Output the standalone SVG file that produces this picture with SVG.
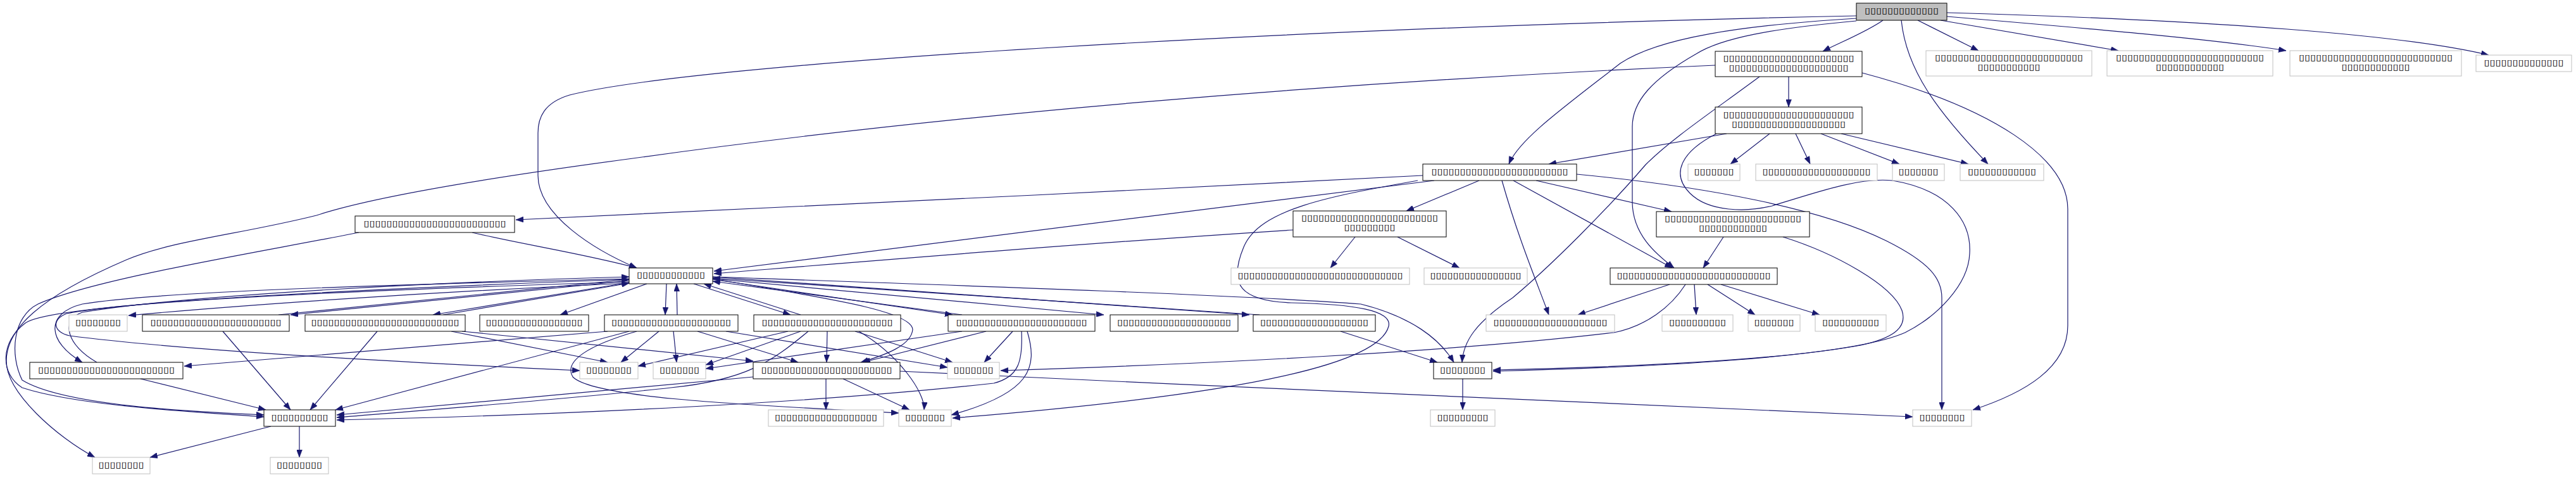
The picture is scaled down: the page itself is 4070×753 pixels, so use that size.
<svg xmlns="http://www.w3.org/2000/svg" width="4070" height="753" viewBox="0 0 4070 753">
<style>
rect{fill:#fff;stroke-width:1}
.d rect{stroke:#000}
.u rect{stroke:#bfbfbf}
.r rect{fill:#bfbfbf;stroke:#000}
text{font-family:"DejaVu Sans",sans-serif;font-size:13px;text-anchor:middle;fill:#000;lengthAdjust:spacingAndGlyphs}
#edges path{fill:none;stroke:#191970;stroke-width:1.2;marker-end:url(#ah)}
</style>
<defs>
<marker id="ah" viewBox="0 0 12 9" refX="12" refY="4.5" markerWidth="12" markerHeight="9" orient="auto" markerUnits="userSpaceOnUse"><path d="M0,0L12,4.5L0,9z" fill="#191970" stroke="#191970" stroke-width="0.5"/></marker>
</defs>
<rect x="0" y="0" width="4070" height="753" style="fill:#fff;stroke:none"/>
<g id="edges">
<path d="M2975,32 C2950,50 2905,68 2880,81"/>
<path d="M3004,32 C3012,110 3060,175 3141,259"/>
<path d="M3030,32 L3126,80"/>
<path d="M3066,32 L3347,80"/>
<path d="M3076,26 C3300,45 3500,62 3612,80"/>
<path d="M3076,20 C3500,32 3800,55 3932,87"/>
<path d="M2933,25 C2000,45 1100,100 900,150 C860,162 850,185 850,210 L850,277 C850,340 940,395 1006,423"/>
<path d="M2933,29 C2750,40 2620,60 2560,100 C2470,170 2400,220 2384,259"/>
<path d="M2933,33 C2800,45 2720,60 2680,85 C2610,125 2579,160 2579,200 L2579,320 C2580,370 2615,400 2645,423"/>
<path d="M2826,121 L2826,169"/>
<path d="M2780,121 C2700,180 2640,220 2600,260 C2540,330 2450,420 2390,470 C2330,510 2312,540 2310,572"/>
<path d="M2710,103 C2100,130 1500,180 1000,250 C700,290 560,320 500,340 C380,370 270,380 200,410 C60,470 10,520 10,570 C10,620 90,690 150,722"/>
<path d="M2942,115 C3150,170 3267,250 3267,330 L3267,514 C3267,580 3200,620 3117,647"/>
<path d="M2728,211 L2447,259"/>
<path d="M2796,211 L2734,259"/>
<path d="M2837,211 L2860,259"/>
<path d="M2877,211 L3001,259"/>
<path d="M2909,211 L3110,259"/>
<path d="M2712,211 C2655,240 2640,275 2670,305 C2700,335 2760,335 2800,325 C2880,300 2940,280 2990,285 C3080,300 3115,350 3112,400 C3110,450 3060,500 3010,525 C2920,565 2600,580 2359,586"/>
<path d="M2248,277 C1800,300 1200,330 815,347"/>
<path d="M2266,285 C1900,330 1400,395 1128,428"/>
<path d="M2337,285 L2222,333"/>
<path d="M2373,285 C2400,380 2430,450 2447,497"/>
<path d="M2391,285 L2642,423"/>
<path d="M2427,285 L2641,334"/>
<path d="M2491,275 C2700,295 2880,330 2980,380 C3050,415 3068,440 3068,470 L3068,647"/>
<path d="M2240,285 C2100,310 1990,330 1965,390 C1940,450 1960,475 2040,478 C2140,480 2200,490 2194,515 C2180,570 2000,620 1505,660"/>
<path d="M2043,363 C1700,385 1400,410 1128,432"/>
<path d="M2141,374 L2102,423"/>
<path d="M2208,374 L2306,423"/>
<path d="M2723,374 L2691,423"/>
<path d="M2817,374 C2900,400 2990,450 3005,490 C3015,520 2985,535 2940,545 C2800,570 2550,580 2359,584"/>
<path d="M2638,449 L2493,497"/>
<path d="M2663,449 C2640,485 2600,515 2550,525 C2300,555 1900,575 1581,585"/>
<path d="M2677,449 L2680,497"/>
<path d="M2698,449 L2773,497"/>
<path d="M2719,449 L2875,497"/>
<path d="M2311,598 L2311,647"/>
<path d="M1126,437 C1500,450 1950,465 2150,480 C2230,500 2275,535 2297,572"/>
<path d="M2118,523 L2271,572"/>
<path d="M746,367 C820,385 920,400 1006,423"/>
<path d="M567,367 C400,400 150,440 60,480 C20,500 15,560 35,600 C100,640 300,650 417,655"/>
<path d="M994,440 C600,450 250,460 130,480 C70,495 75,540 130,572"/>
<path d="M153,572 C105,545 95,505 130,493 C300,465 700,445 994,437"/>
<path d="M994,445 C500,460 80,480 40,510 C0,540 0,590 35,612 C120,640 300,650 417,658"/>
<path d="M994,447 C700,460 400,480 203,498"/>
<path d="M994,443 L459,497"/>
<path d="M440,497 L994,441"/>
<path d="M994,446 L684,497"/>
<path d="M700,497 L994,447"/>
<path d="M1022,448 L885,497"/>
<path d="M1053,448 L1051,497"/>
<path d="M1070,497 L1069,448"/>
<path d="M1096,448 L1249,497"/>
<path d="M1265,497 L1112,448"/>
<path d="M1126,441 L1505,497"/>
<path d="M1520,497 L1126,444"/>
<path d="M1126,440 L1744,497"/>
<path d="M1126,437 L1974,497"/>
<path d="M1990,497 L1126,439"/>
<path d="M1126,440 C1300,470 1440,490 1442,520 C1440,545 1400,560 1360,572"/>
<path d="M352,523 L459,647"/>
<path d="M596,523 L490,647"/>
<path d="M994,523 L530,647"/>
<path d="M222,598 L420,647"/>
<path d="M1190,595 L532,655"/>
<path d="M1277,523 C1220,570 1180,600 1060,612 C900,630 700,645 532,659"/>
<path d="M1614,523 C1616,570 1610,595 1570,605 C1300,635 900,655 532,663"/>
<path d="M428,673 L237,722"/>
<path d="M473,673 L473,722"/>
<path d="M960,523 L291,578"/>
<path d="M1041,523 L981,572"/>
<path d="M1064,523 L1069,572"/>
<path d="M1102,523 L1261,572"/>
<path d="M1147,523 L1497,580"/>
<path d="M1006,523 C930,545 890,570 905,595 C940,630 1200,640 1420,652"/>
<path d="M1245,523 L1008,578"/>
<path d="M1265,523 L1115,576"/>
<path d="M1307,523 L1306,572"/>
<path d="M1351,523 L1505,572"/>
<path d="M1357,523 C1420,560 1462,620 1460,647"/>
<path d="M1520,523 L1115,582"/>
<path d="M1558,523 L1363,572"/>
<path d="M1600,523 L1555,572"/>
<path d="M1623,523 C1640,580 1630,620 1503,655"/>
<path d="M1305,598 L1305,647"/>
<path d="M1332,598 L1437,647"/>
<path d="M1422,586 C2000,615 2700,640 3022,658"/>
<path d="M713,523 L960,572"/>
<path d="M730,523 L1190,570"/>
<path d="M994,441 C600,455 200,475 105,495 C80,505 85,525 110,530 C300,555 700,575 916,585"/>
</g>
<g id="n_root" class="r"><rect x="2933" y="5" width="143" height="27"/><text x="3004.5" y="21" textLength="117" lengthAdjust="spacingAndGlyphs">▯▯▯▯▯▯▯▯▯▯▯▯▯</text></g>
<g id="n_a" class="d"><rect x="2710" y="81" width="232" height="40"/><text x="2826" y="95.5" textLength="207" lengthAdjust="spacingAndGlyphs">▯▯▯▯▯▯▯▯▯▯▯▯▯▯▯▯▯▯▯▯▯▯▯</text><text x="2826" y="110.5" textLength="189" lengthAdjust="spacingAndGlyphs">▯▯▯▯▯▯▯▯▯▯▯▯▯▯▯▯▯▯▯▯▯</text></g>
<g id="n_g1" class="u"><rect x="3043" y="80" width="262" height="40"/><text x="3174" y="94.5" textLength="234" lengthAdjust="spacingAndGlyphs">▯▯▯▯▯▯▯▯▯▯▯▯▯▯▯▯▯▯▯▯▯▯▯▯▯▯</text><text x="3174" y="109.5" textLength="99" lengthAdjust="spacingAndGlyphs">▯▯▯▯▯▯▯▯▯▯▯</text></g>
<g id="n_g2" class="u"><rect x="3329" y="80" width="262" height="40"/><text x="3460" y="94.5" textLength="234" lengthAdjust="spacingAndGlyphs">▯▯▯▯▯▯▯▯▯▯▯▯▯▯▯▯▯▯▯▯▯▯▯▯▯▯</text><text x="3460" y="109.5" textLength="108" lengthAdjust="spacingAndGlyphs">▯▯▯▯▯▯▯▯▯▯▯▯</text></g>
<g id="n_g3" class="u"><rect x="3618" y="80" width="271" height="40"/><text x="3753.5" y="94.5" textLength="243" lengthAdjust="spacingAndGlyphs">▯▯▯▯▯▯▯▯▯▯▯▯▯▯▯▯▯▯▯▯▯▯▯▯▯▯▯</text><text x="3753.5" y="109.5" textLength="108" lengthAdjust="spacingAndGlyphs">▯▯▯▯▯▯▯▯▯▯▯▯</text></g>
<g id="n_g4" class="u"><rect x="3912" y="87" width="151" height="26"/><text x="3987.5" y="102.5" textLength="126" lengthAdjust="spacingAndGlyphs">▯▯▯▯▯▯▯▯▯▯▯▯▯▯</text></g>
<g id="n_b" class="d"><rect x="2710" y="169" width="232" height="42"/><text x="2826" y="184.5" textLength="207" lengthAdjust="spacingAndGlyphs">▯▯▯▯▯▯▯▯▯▯▯▯▯▯▯▯▯▯▯▯▯▯▯</text><text x="2826" y="199.5" textLength="180" lengthAdjust="spacingAndGlyphs">▯▯▯▯▯▯▯▯▯▯▯▯▯▯▯▯▯▯▯▯</text></g>
<g id="n_c" class="d"><rect x="2248" y="259" width="243" height="26"/><text x="2369.5" y="274.5" textLength="216" lengthAdjust="spacingAndGlyphs">▯▯▯▯▯▯▯▯▯▯▯▯▯▯▯▯▯▯▯▯▯▯▯▯</text></g>
<g id="n_g5" class="u"><rect x="2667" y="259" width="82" height="26"/><text x="2708" y="274.5" textLength="63" lengthAdjust="spacingAndGlyphs">▯▯▯▯▯▯▯</text></g>
<g id="n_g6" class="u"><rect x="2774" y="259" width="192" height="26"/><text x="2870" y="274.5" textLength="171" lengthAdjust="spacingAndGlyphs">▯▯▯▯▯▯▯▯▯▯▯▯▯▯▯▯▯▯▯</text></g>
<g id="n_g7" class="u"><rect x="2990" y="259" width="82" height="26"/><text x="3031" y="274.5" textLength="63" lengthAdjust="spacingAndGlyphs">▯▯▯▯▯▯▯</text></g>
<g id="n_g8" class="u"><rect x="3097" y="259" width="132" height="26"/><text x="3163" y="274.5" textLength="108" lengthAdjust="spacingAndGlyphs">▯▯▯▯▯▯▯▯▯▯▯▯</text></g>
<g id="n_d" class="d"><rect x="561" y="341" width="252" height="26"/><text x="687" y="356.5" textLength="225" lengthAdjust="spacingAndGlyphs">▯▯▯▯▯▯▯▯▯▯▯▯▯▯▯▯▯▯▯▯▯▯▯▯▯</text></g>
<g id="n_e" class="d"><rect x="2043" y="333" width="242" height="41"/><text x="2164" y="348" textLength="216" lengthAdjust="spacingAndGlyphs">▯▯▯▯▯▯▯▯▯▯▯▯▯▯▯▯▯▯▯▯▯▯▯▯</text><text x="2164" y="363" textLength="81" lengthAdjust="spacingAndGlyphs">▯▯▯▯▯▯▯▯▯</text></g>
<g id="n_f" class="d"><rect x="2617" y="334" width="242" height="40"/><text x="2738" y="348.5" textLength="216" lengthAdjust="spacingAndGlyphs">▯▯▯▯▯▯▯▯▯▯▯▯▯▯▯▯▯▯▯▯▯▯▯▯</text><text x="2738" y="363.5" textLength="108" lengthAdjust="spacingAndGlyphs">▯▯▯▯▯▯▯▯▯▯▯▯</text></g>
<g id="n_h" class="d"><rect x="994" y="423" width="132" height="25"/><text x="1060" y="438" textLength="108" lengthAdjust="spacingAndGlyphs">▯▯▯▯▯▯▯▯▯▯▯▯</text></g>
<g id="n_g9" class="u"><rect x="1945" y="423" width="282" height="26"/><text x="2086" y="438.5" textLength="261" lengthAdjust="spacingAndGlyphs">▯▯▯▯▯▯▯▯▯▯▯▯▯▯▯▯▯▯▯▯▯▯▯▯▯▯▯▯▯</text></g>
<g id="n_g10" class="u"><rect x="2250" y="423" width="163" height="26"/><text x="2331.5" y="438.5" textLength="144" lengthAdjust="spacingAndGlyphs">▯▯▯▯▯▯▯▯▯▯▯▯▯▯▯▯</text></g>
<g id="n_g" class="d"><rect x="2544" y="423" width="264" height="26"/><text x="2676" y="438.5" textLength="243" lengthAdjust="spacingAndGlyphs">▯▯▯▯▯▯▯▯▯▯▯▯▯▯▯▯▯▯▯▯▯▯▯▯▯▯▯</text></g>
<g id="n_g11" class="u"><rect x="109" y="497" width="92" height="26"/><text x="155" y="512.5" textLength="72" lengthAdjust="spacingAndGlyphs">▯▯▯▯▯▯▯▯</text></g>
<g id="n_k1" class="d"><rect x="225" y="497" width="232" height="26"/><text x="341" y="512.5" textLength="207" lengthAdjust="spacingAndGlyphs">▯▯▯▯▯▯▯▯▯▯▯▯▯▯▯▯▯▯▯▯▯▯▯</text></g>
<g id="n_k2" class="d"><rect x="482" y="497" width="253" height="26"/><text x="608.5" y="512.5" textLength="234" lengthAdjust="spacingAndGlyphs">▯▯▯▯▯▯▯▯▯▯▯▯▯▯▯▯▯▯▯▯▯▯▯▯▯▯</text></g>
<g id="n_k3" class="d"><rect x="758" y="497" width="172" height="26"/><text x="844" y="512.5" textLength="153" lengthAdjust="spacingAndGlyphs">▯▯▯▯▯▯▯▯▯▯▯▯▯▯▯▯▯</text></g>
<g id="n_k4" class="d"><rect x="955" y="497" width="211" height="26"/><text x="1060.5" y="512.5" textLength="189" lengthAdjust="spacingAndGlyphs">▯▯▯▯▯▯▯▯▯▯▯▯▯▯▯▯▯▯▯▯▯</text></g>
<g id="n_k5" class="d"><rect x="1191" y="497" width="232" height="26"/><text x="1307" y="512.5" textLength="207" lengthAdjust="spacingAndGlyphs">▯▯▯▯▯▯▯▯▯▯▯▯▯▯▯▯▯▯▯▯▯▯▯</text></g>
<g id="n_k6" class="d"><rect x="1498" y="497" width="232" height="26"/><text x="1614" y="512.5" textLength="207" lengthAdjust="spacingAndGlyphs">▯▯▯▯▯▯▯▯▯▯▯▯▯▯▯▯▯▯▯▯▯▯▯</text></g>
<g id="n_k7" class="d"><rect x="1754" y="497" width="202" height="26"/><text x="1855" y="512.5" textLength="180" lengthAdjust="spacingAndGlyphs">▯▯▯▯▯▯▯▯▯▯▯▯▯▯▯▯▯▯▯▯</text></g>
<g id="n_k8" class="d"><rect x="1980" y="497" width="193" height="26"/><text x="2076.5" y="512.5" textLength="171" lengthAdjust="spacingAndGlyphs">▯▯▯▯▯▯▯▯▯▯▯▯▯▯▯▯▯▯▯</text></g>
<g id="n_g12" class="u"><rect x="2348" y="497" width="203" height="26"/><text x="2449.5" y="512.5" textLength="180" lengthAdjust="spacingAndGlyphs">▯▯▯▯▯▯▯▯▯▯▯▯▯▯▯▯▯▯▯▯</text></g>
<g id="n_g13" class="u"><rect x="2626" y="497" width="112" height="26"/><text x="2682" y="512.5" textLength="90" lengthAdjust="spacingAndGlyphs">▯▯▯▯▯▯▯▯▯▯</text></g>
<g id="n_g14" class="u"><rect x="2762" y="497" width="82" height="26"/><text x="2803" y="512.5" textLength="63" lengthAdjust="spacingAndGlyphs">▯▯▯▯▯▯▯</text></g>
<g id="n_g15" class="u"><rect x="2868" y="497" width="112" height="26"/><text x="2924" y="512.5" textLength="90" lengthAdjust="spacingAndGlyphs">▯▯▯▯▯▯▯▯▯▯</text></g>
<g id="n_l1" class="d"><rect x="47" y="572" width="242" height="26"/><text x="168" y="587.5" textLength="216" lengthAdjust="spacingAndGlyphs">▯▯▯▯▯▯▯▯▯▯▯▯▯▯▯▯▯▯▯▯▯▯▯▯</text></g>
<g id="n_g16" class="u"><rect x="916" y="572" width="92" height="26"/><text x="962" y="587.5" textLength="72" lengthAdjust="spacingAndGlyphs">▯▯▯▯▯▯▯▯</text></g>
<g id="n_g17" class="u"><rect x="1032" y="572" width="83" height="26"/><text x="1073.5" y="587.5" textLength="63" lengthAdjust="spacingAndGlyphs">▯▯▯▯▯▯▯</text></g>
<g id="n_l2" class="d"><rect x="1190" y="572" width="232" height="26"/><text x="1306" y="587.5" textLength="207" lengthAdjust="spacingAndGlyphs">▯▯▯▯▯▯▯▯▯▯▯▯▯▯▯▯▯▯▯▯▯▯▯</text></g>
<g id="n_g18" class="u"><rect x="1497" y="572" width="82" height="26"/><text x="1538" y="587.5" textLength="63" lengthAdjust="spacingAndGlyphs">▯▯▯▯▯▯▯</text></g>
<g id="n_nh" class="d"><rect x="2265" y="572" width="92" height="26"/><text x="2311" y="587.5" textLength="72" lengthAdjust="spacingAndGlyphs">▯▯▯▯▯▯▯▯</text></g>
<g id="n_m" class="d"><rect x="417" y="647" width="113" height="26"/><text x="473.5" y="662.5" textLength="90" lengthAdjust="spacingAndGlyphs">▯▯▯▯▯▯▯▯▯▯</text></g>
<g id="n_g19" class="u"><rect x="1214" y="647" width="182" height="26"/><text x="1305" y="662.5" textLength="162" lengthAdjust="spacingAndGlyphs">▯▯▯▯▯▯▯▯▯▯▯▯▯▯▯▯▯▯</text></g>
<g id="n_g20" class="u"><rect x="1420" y="647" width="83" height="26"/><text x="1461.5" y="662.5" textLength="63" lengthAdjust="spacingAndGlyphs">▯▯▯▯▯▯▯</text></g>
<g id="n_g21" class="u"><rect x="2260" y="647" width="102" height="26"/><text x="2311" y="662.5" textLength="81" lengthAdjust="spacingAndGlyphs">▯▯▯▯▯▯▯▯▯</text></g>
<g id="n_gbr" class="u"><rect x="3022" y="647" width="93" height="26"/><text x="3068.5" y="662.5" textLength="72" lengthAdjust="spacingAndGlyphs">▯▯▯▯▯▯▯▯</text></g>
<g id="n_g22" class="u"><rect x="146" y="722" width="91" height="26"/><text x="191.5" y="737.5" textLength="72" lengthAdjust="spacingAndGlyphs">▯▯▯▯▯▯▯▯</text></g>
<g id="n_g23" class="u"><rect x="427" y="722" width="92" height="26"/><text x="473" y="737.5" textLength="72" lengthAdjust="spacingAndGlyphs">▯▯▯▯▯▯▯▯</text></g>
</svg>
